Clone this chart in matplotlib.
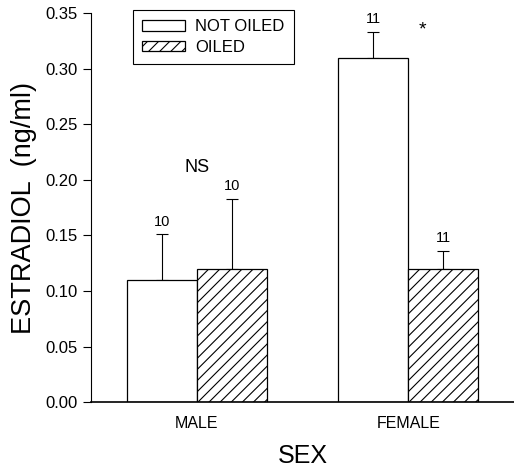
import numpy as np
import matplotlib.pyplot as plt

plt.rcParams['font.family'] = ['Liberation Sans', 'DejaVu Sans']
plt.rcParams['hatch.linewidth'] = 0.8

# data
groups = ['MALE', 'FEMALE']
not_oiled = [0.110, 0.310]
not_oiled_err = [0.041, 0.023]
oiled = [0.120, 0.120]
oiled_err = [0.063, 0.016]
n_not_oiled = ['10', '11']
n_oiled = ['10', '11']
signif = ['NS', '*']

x = np.arange(len(groups))
w = 0.33

fig = plt.figure(figsize=(5.14, 4.66), dpi=100)
ax = fig.add_axes([0.177, 0.137, 0.823, 0.835])

ax.bar(x - w / 2, not_oiled, w, color='white', edgecolor='black', linewidth=0.9,
       label='NOT OILED', zorder=2)
ax.bar(x + w / 2, oiled, w, color='white', edgecolor='black', linewidth=0.9,
       hatch='///', label='OILED', zorder=2)
ax.errorbar(x - w / 2, not_oiled, yerr=[np.zeros(2), not_oiled_err], fmt='none',
            ecolor='black', elinewidth=0.8, capsize=4, capthick=0.8, zorder=1)
ax.errorbar(x + w / 2, oiled, yerr=[np.zeros(2), oiled_err], fmt='none',
            ecolor='black', elinewidth=0.8, capsize=4, capthick=0.8, zorder=1)

for i in range(len(groups)):
    ax.text(x[i] - w / 2, not_oiled[i] + not_oiled_err[i] + 0.005, n_not_oiled[i],
            ha='center', va='bottom', fontsize=10.5)
    ax.text(x[i] + w / 2, oiled[i] + oiled_err[i] + 0.005, n_oiled[i],
            ha='center', va='bottom', fontsize=10.5)

ax.text(0.0, 0.211, signif[0], ha='center', va='center', fontsize=13)
ax.text(1.065, 0.335, signif[1], ha='center', va='center', fontsize=14)

ax.set_xlim(-0.5, 1.5)
ax.set_ylim(0, 0.35)
ax.set_yticks(np.arange(0, 0.351, 0.05))
ax.set_yticklabels(['%.2f' % v for v in np.arange(0, 0.351, 0.05)])
ax.set_xticks(x)
ax.set_xticklabels(groups)
ax.tick_params(axis='y', length=6, width=0.8, labelsize=12)
ax.tick_params(axis='x', length=0, labelsize=11.5, pad=10)
ax.spines['top'].set_visible(False)
ax.spines['right'].set_visible(False)
ax.spines['bottom'].set_linewidth(1.2)
ax.spines['left'].set_linewidth(0.8)

ax.set_ylabel('ESTRADIOL  (ng/ml)', fontsize=19.5, labelpad=6)
ax.set_xlabel('SEX', fontsize=18, labelpad=9)

leg = ax.legend(loc='upper left', bbox_to_anchor=(0.099, 1.008), fontsize=12,
                frameon=True, fancybox=False, edgecolor='black', framealpha=1,
                handlelength=2.6, handleheight=0.6, handletextpad=0.6,
                borderpad=0.55, labelspacing=0.35, borderaxespad=0)
leg.get_frame().set_linewidth(0.8)

fig.savefig('out.png', dpi=100)
